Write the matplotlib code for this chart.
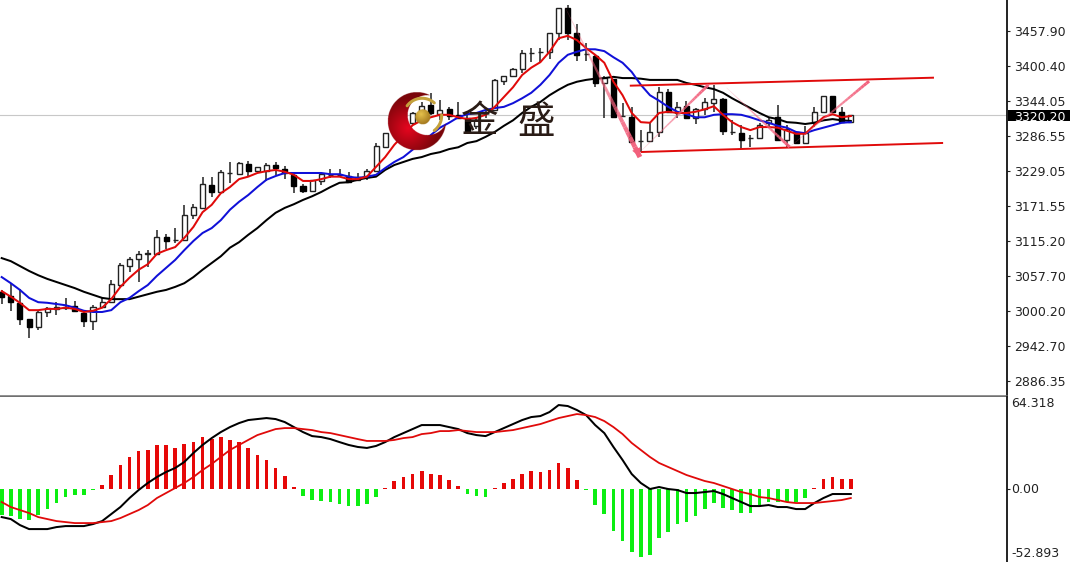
import numpy as np
import matplotlib
matplotlib.use('Agg')
import matplotlib.pyplot as plt
from matplotlib.collections import LineCollection
from matplotlib.patches import Rectangle
from matplotlib.transforms import ScaledTranslation

# --- price pane ---
open_ = [3032,3025,3014,2988,2975,2999,3004,3006,3009,2997,
         2984,3007,3015,3043,3074,3086,3094,3094,3122,3117,
         3117,3157,3169,3206,3195,3226,3224,3241,3229,3229,
         3239,3233,3223,3205,3197,3213,3223,3223,3221,3215,
         3219,3229,3268,3291,3304,3308,3327,3337,3322,3330,
         3321,3316,3302,3324,3329,3376,3384,3396,3422,3423,
         3424,3455,3495,3455,3420,3417,3373,3380,3319,3317,
         3278,3278,3293,3358,3324,3335,3316,3330,3340,3347,
         3293,3291,3283,3283,3308,3317,3280,3293,3275,3309,
         3326,3352,3326,3309]
high = [3035,3046,3037,2988,3002,3007,3015,3022,3017,3001,
        3010,3022,3051,3079,3089,3099,3100,3133,3126,3136,
        3174,3175,3219,3219,3231,3244,3244,3246,3236,3242,
        3244,3238,3226,3208,3215,3226,3233,3233,3228,3226,
        3233,3275,3291,3308,3319,3326,3342,3357,3345,3334,
        3342,3320,3318,3330,3380,3384,3397,3427,3430,3430,
        3455,3495,3500,3469,3438,3419,3384,3380,3340,3334,
        3296,3308,3366,3363,3342,3344,3332,3348,3370,3348,
        3312,3304,3288,3308,3317,3337,3304,3295,3303,3334,
        3352,3352,3334,3321]
low = [3012,3001,2978,2957,2970,2991,2994,3002,3001,2975,
       2970,3006,3014,3040,3064,3048,3072,3092,3102,3112,
       3115,3151,3167,3187,3193,3210,3223,3219,3229,3213,
       3223,3216,3193,3193,3197,3206,3218,3219,3210,3213,
       3215,3228,3267,3288,3301,3304,3325,3321,3313,3313,
       3316,3293,3298,3316,3329,3370,3383,3389,3407,3407,
       3412,3443,3443,3409,3409,3366,3316,3316,3317,3275,
       3260,3277,3285,3324,3316,3314,3306,3321,3326,3288,
       3288,3265,3268,3281,3301,3280,3268,3275,3273,3301,
       3326,3326,3309,3308]
close = [3024,3015,2988,2975,2999,3006,3007,3007,3001,2984,
         3007,3015,3045,3076,3086,3094,3095,3122,3115,3117,
         3157,3170,3208,3195,3228,3226,3242,3229,3236,3239,
         3234,3226,3205,3197,3215,3224,3223,3223,3211,3219,
         3229,3270,3291,3306,3316,3324,3335,3324,3329,3319,
         3316,3295,3312,3325,3378,3384,3396,3422,3422,3423,
         3455,3495,3455,3419,3420,3373,3381,3317,3319,3277,
         3278,3293,3358,3326,3334,3316,3330,3342,3347,3295,
         3293,3280,3283,3304,3312,3280,3298,3275,3291,3326,
         3352,3326,3309,3320.2]

ma_red = [3033,3024,3014,3002,3002,3004,3004,3006,3004,2999,
          3001,3006,3020,3040,3055,3068,3077,3094,3100,3105,
          3120,3138,3162,3174,3193,3203,3216,3220,3226,3229,
          3231,3228,3223,3213,3213,3216,3220,3220,3216,3216,
          3220,3236,3252,3272,3288,3304,3312,3317,3321,3321,
          3317,3314,3316,3321,3334,3350,3366,3386,3398,3407,
          3424,3446,3450,3443,3430,3419,3406,3375,3353,3324,
          3309,3308,3324,3326,3324,3324,3326,3330,3335,3321,
          3309,3301,3296,3301,3301,3300,3295,3290,3290,3304,
          3317,3322,3317,3319]
ma_blue = [3056,3046,3035,3022,3015,3014,3012,3010,3006,3001,
           2999,2999,3002,3015,3022,3033,3043,3058,3071,3084,
           3100,3115,3128,3136,3149,3166,3179,3190,3203,3215,
           3221,3226,3226,3226,3226,3226,3224,3224,3220,3218,
           3220,3223,3234,3244,3252,3264,3275,3288,3300,3308,
           3317,3322,3324,3329,3332,3334,3340,3348,3357,3370,
           3386,3406,3419,3424,3428,3428,3425,3415,3406,3391,
           3370,3353,3344,3334,3326,3322,3317,3317,3321,3322,
           3322,3321,3317,3312,3308,3303,3300,3293,3291,3296,
           3300,3304,3308,3309]
ma_black = [3087,3082,3074,3066,3059,3053,3048,3043,3038,3032,
            3027,3022,3020,3020,3020,3024,3028,3032,3035,3040,
            3046,3056,3068,3079,3090,3104,3113,3125,3136,3149,
            3161,3169,3175,3182,3188,3195,3203,3210,3211,3215,
            3218,3220,3231,3239,3244,3249,3252,3257,3260,3265,
            3268,3275,3278,3285,3293,3303,3312,3324,3334,3342,
            3353,3362,3370,3375,3378,3380,3381,3383,3381,3381,
            3380,3378,3378,3378,3378,3373,3370,3366,3363,3357,
            3348,3340,3332,3324,3317,3314,3309,3308,3306,3308,
            3312,3314,3312,3311]

last_price = 3320.20
price_ticks = [3457.90, 3400.40, 3344.05, 3286.55, 3229.05, 3171.55,
               3115.20, 3057.70, 3000.20, 2942.70, 2886.35]

# trend lines drawn on the chart: (bar, price) start and end
channel_top = ([68.9, 102.0], [3368.6, 3381.6])
channel_bottom = ([70.1, 103.0], [3260.3, 3275.0])
swing_down = ((61.7, 3497), (69.9, 3252))
swing_up = ((69.9, 3260), (77.4, 3370))
swing_down2 = ((79.4, 3365), (86.3, 3268.5))
swing_up2 = ((86.3, 3268.5), (95.0, 3376))

# --- MACD pane ---
macd_hist = [-18.4,-18.9,-21.2,-21.9,-18.4,-13.7,-9.8,-5.6,-4.0,-4.4,
             -0.5,3.0,9.6,17.0,22.4,26.3,27.5,30.5,30.5,28.7,
             31.2,32.9,36.4,34.7,36.4,34.5,32.9,28.7,24.0,20.0,
             15.0,8.9,1.4,-4.9,-7.9,-8.6,-9.0,-10.3,-11.9,-12.1,
             -10.7,-5.6,0.5,5.4,8.4,10.7,12.8,10.7,9.6,6.0,
             2.1,-3.7,-4.9,-5.6,0.9,4.4,7.2,10.7,12.3,11.9,
             13.5,18.2,15.0,6.0,-1.0,-11.4,-17.7,-29.4,-36.4,-44.0,
             -47.5,-45.9,-34.3,-30.0,-24.7,-23.0,-18.9,-13.7,-9.8,-13.3,
             -14.9,-16.8,-16.8,-11.4,-9.0,-9.0,-9.0,-9.0,-6.3,0.5,
             7.2,8.4,6.7,6.7]
macd_black = [-19.6,-21.0,-25.2,-28.0,-28.0,-28.0,-26.6,-25.9,-25.9,-25.9,
              -24.5,-22.4,-17.5,-12.6,-6.3,-0.7,4.2,8.4,11.9,14.7,
              18.9,25.2,30.8,35.6,39.8,43.3,46.1,48.2,48.9,49.6,
              48.9,46.8,43.3,39.8,37.0,36.3,34.9,32.8,30.8,29.4,
              28.7,30.1,32.8,36.3,39.1,41.9,44.7,44.7,44.7,43.3,
              41.9,39.1,37.7,37.0,39.8,42.6,45.4,48.2,50.3,51.0,
              53.8,58.7,58.0,55.2,51.7,44.7,39.1,29.4,20.3,10.5,
              4.2,0.0,1.4,0.0,-0.7,-2.8,-2.8,-2.1,-1.4,-3.5,
              -6.3,-9.1,-11.9,-11.9,-11.2,-12.6,-12.6,-14.0,-14.0,-9.8,
              -6.3,-3.5,-3.5,-3.5]
macd_red = [-9.1,-12.6,-14.7,-16.8,-19.6,-21.0,-22.4,-23.1,-23.8,-23.8,
            -23.8,-23.1,-22.4,-20.3,-17.5,-14.7,-11.2,-6.3,-2.8,0.7,
            4.2,8.4,13.3,17.5,22.4,27.3,30.8,34.3,37.7,39.8,
            41.9,42.6,42.6,41.9,41.2,39.8,39.1,37.7,36.3,34.9,
            33.6,33.6,33.6,34.3,35.6,36.3,38.4,39.1,40.5,40.5,
            41.2,40.5,39.8,39.8,39.8,40.5,41.2,42.6,44.0,45.4,
            47.5,49.6,51.0,52.4,51.7,50.3,47.5,43.3,38.4,32.2,
            27.3,22.4,18.2,15.4,12.6,9.8,7.7,5.6,4.2,2.1,
            0.0,-2.1,-3.5,-5.6,-6.3,-7.7,-9.1,-9.8,-9.8,-9.8,
            -9.1,-8.4,-7.7,-6.3]
macd_ticks = [64.318, 0.00, -52.893]
macd_tick_labels = ['64.318', '0.00', '-52.893']

W, H = 1071, 562
AXIS_X = 1006.5      # right edge of the panes in pixels
RED = '#e00a0a'
PINK = '#f2607c'


def pane(top, bottom):
    """Axes between two pixel rows, drawn up to the price scale."""
    ax = fig.add_axes([0, 1 - bottom / H, AXIS_X / W, (bottom - top) / H])
    ax.set_xlim(-0.186, 110.05)
    for side in ['top', 'left', 'bottom']:
        ax.spines[side].set_visible(False)
    ax.spines['right'].set_color('#111111')
    ax.spines['right'].set_linewidth(1.3)
    ax.set_xticks([])
    ax.yaxis.tick_right()
    ax.tick_params(axis='y', length=2, width=0.8, pad=3.4, labelsize=9,
                   colors='#222222')
    return ax


def taper(ax, start, end, max_width, color):
    # hand drawn tool look: thin at the start, thick at the end
    xs = np.linspace(start[0], end[0], 31)
    ys = np.linspace(start[1], end[1], 31)
    segs = [[(xs[k], ys[k]), (xs[k + 1], ys[k + 1])] for k in range(30)]
    widths = np.linspace(0.3, max_width, 30)
    rgba = np.tile(matplotlib.colors.to_rgba(color), (30, 1))
    rgba[:, 3] = np.linspace(0.25, 1, 30)
    ax.add_collection(LineCollection(segs, linewidths=widths, colors=rgba,
                                     capstyle='butt', zorder=6))


fig = plt.figure(figsize=(W / 100, H / 100), dpi=100, facecolor='white')

# --- candles + moving averages ---
ax = pane(0, 396)
ax.set_ylim(2861.8, 3508.5)
ax.spines['bottom'].set_visible(True)
ax.spines['bottom'].set_color('#707070')
ax.spines['bottom'].set_linewidth(1.8)
ax.set_yticks(price_ticks)
ax.set_yticklabels([f'{t:.2f}' for t in price_ticks])

bars = np.arange(len(close))
o, c = np.array(open_), np.array(close)
up = c >= o
ax.axhline(last_price, color='#c8c8c8', lw=0.8, zorder=1)
ax.vlines(bars, low, high, color='#222222', lw=1.1, zorder=2)
ax.bar(bars[up], (c - o)[up], bottom=o[up], width=0.55, color='white',
       edgecolor='#222222', lw=1.0, zorder=3)
ax.bar(bars[~up], (c - o)[~up], bottom=o[~up], width=0.55, color='black',
       edgecolor='black', lw=1.0, zorder=3)

ax.plot(bars, ma_black, color='black', lw=1.45, zorder=4)
ax.plot(bars, ma_blue, color='#1010d8', lw=1.45, zorder=4)
ax.plot(bars, ma_red, color=RED, lw=1.45, zorder=5)

ax.plot(*channel_top, color=RED, lw=1.4, zorder=6)
ax.plot(*channel_bottom, color=RED, lw=1.4, zorder=6)
taper(ax, swing_down[0], swing_down[1], 3.6, PINK)
taper(ax, swing_up[0], swing_up[1], 2.2, PINK)
taper(ax, swing_down2[0], swing_down2[1], 2.2, PINK)
taper(ax, swing_up2[0], swing_up2[1], 2.2, PINK)
ax.annotate('', xy=swing_down[1], xytext=(69.3, 3272), zorder=6,
            arrowprops=dict(arrowstyle='-|>', color=PINK, lw=0,
                            mutation_scale=16, shrinkA=0, shrinkB=0))

# --- MACD, bottom of the pane falls just past the image like in the terminal ---
ax2 = pane(397, 564.7)
ax2.set_ylim(macd_ticks[2], macd_ticks[0])
hist = np.array(macd_hist)
ax2.bar(bars, hist, width=0.4, color=['#e60808' if v > 0 else '#0cee12' for v in hist])
ax2.plot(bars, macd_black, color='black', lw=1.45)
ax2.plot(bars, macd_red, color=RED, lw=1.3)
ax2.set_yticks(macd_ticks)
ax2.set_yticklabels(macd_tick_labels)
ax2.tick_params(axis='y', pad=1.2)
labels = ax2.get_yticklabels()
labels[0].set_va('top')
labels[1].set_va('center')
labels[2].set_va('bottom')
# keep the last label inside the image
labels[2].set_transform(labels[2].get_transform()
                        + ScaledTranslation(0, 3.2 / 72, fig.dpi_scale_trans))
for tick in ax2.yaxis.get_major_ticks()[0::2]:
    tick.tick2line.set_visible(False)

# --- watermark logo and price box, in pixel coordinates of the image ---
top = fig.add_axes([0, 0, 1, 1], zorder=20)
top.set_xlim(0, W)
top.set_ylim(H, 0)
top.axis('off')
top.patch.set_visible(False)

top.add_patch(Rectangle((1008, 110.3), 62, 10.6, color='black', lw=0))
top.text(1040, 115.6, f'{last_price:.2f}', color='white', fontsize=9,
         ha='center', va='center_baseline')

gx, gy = np.meshgrid(np.arange(385, 450, 0.25), np.arange(90, 155, 0.25))
outer = np.hypot(gx - 416.8, gy - 121) <= 29
inner = np.hypot(gx - 427.5, gy - 115) <= 20
glow = np.clip(np.hypot(gx - 408, gy - 128) / 30, 0, 1)
logo = np.zeros(gx.shape + (4,))
logo[..., 0] = 0.90 - 0.42 * glow
logo[..., 1] = 0.02
logo[..., 2] = 0.08 * (1 - glow) + 0.04
logo[..., 3] = (outer & ~inner).astype(float)
top.imshow(logo, extent=(385, 450, 155, 90), aspect='auto', origin='upper', zorder=1)

bx, by = np.meshgrid(np.arange(414, 432, 0.25), np.arange(108, 126, 0.25))
dist = np.hypot(bx - 422.7, by - 116.7)
ball = np.zeros(bx.shape + (4,))
shade = np.clip(np.hypot(bx - 421, by - 114) / 10, 0, 1)
ball[..., 0] = 0.90 - 0.25 * shade
ball[..., 1] = 0.76 - 0.28 * shade
ball[..., 2] = 0.30 - 0.18 * shade
ball[..., 3] = (dist <= 7.5).astype(float)
top.imshow(ball, extent=(414, 432, 126, 108), aspect='auto', origin='upper', zorder=2)

# gold swirl around the ball
for a0, a1 in [(215, 310), (-5, 50)]:
    ang = np.radians(np.linspace(a0, a1, 40))
    rad = np.linspace(19, 18, 40)
    top.plot(422.7 + rad * np.cos(ang), 116.7 + rad * np.sin(ang),
             color='#c4a23c', lw=2.2, solid_capstyle='round', zorder=2)

top.text(480, 122, '金', fontsize=27, ha='center', va='center', color='#2a1c16',
         family=['Noto Sans CJK SC', 'DejaVu Sans'], zorder=3)
top.text(536, 122, '盛', fontsize=27, ha='center', va='center', color='#2a1c16',
         family=['Noto Sans CJK SC', 'DejaVu Sans'], zorder=3)
top.set_xlim(0, W)
top.set_ylim(H, 0)

fig.savefig('out.png', dpi=100, facecolor='white')
